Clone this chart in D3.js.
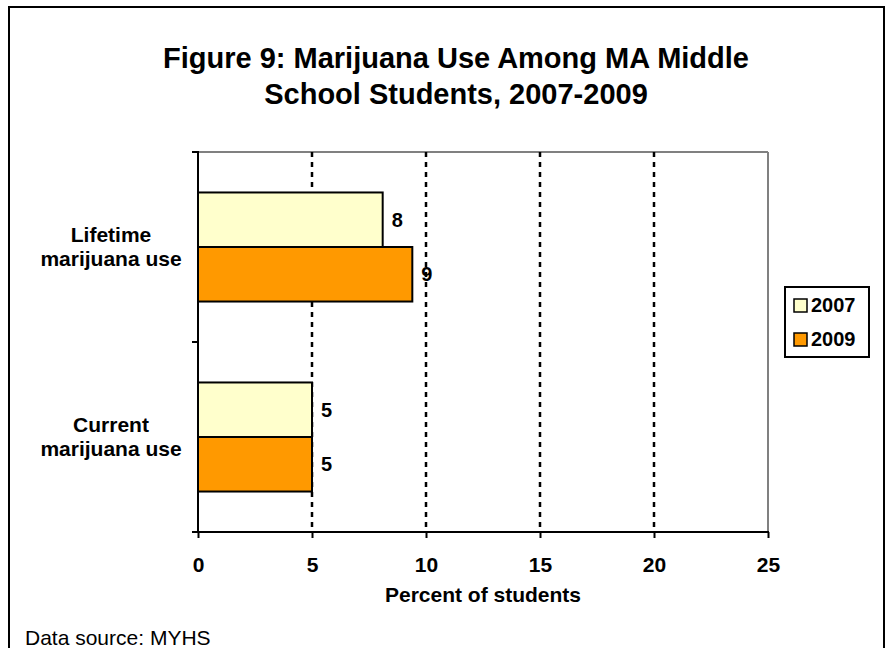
<!DOCTYPE html>
<html>
<head>
<meta charset="utf-8">
<script src="https://cdn.jsdelivr.net/npm/d3@7/dist/d3.min.js"></script>
<style>
  html, body { margin: 0; padding: 0; background: #fff; }
  svg { display: block; font-family: "Liberation Sans", Arial, sans-serif; }
</style>
</head>
<body>
<svg id="chart" width="890" height="648"></svg>
<script>
// ---- Data ----
const categories = [["Lifetime", "marijuana use"], ["Current", "marijuana use"]];
const categoryKeys = ["Lifetime marijuana use", "Current marijuana use"];
const seriesNames = ["2007", "2009"];
const values2007 = [8.1, 5.0];
const values2009 = [9.4, 5.0];
const xTicks = [0, 5, 10, 15, 20, 25];
const titleLines = ["Figure 9: Marijuana Use Among MA Middle", "School Students, 2007-2009"];
const xAxisTitle = "Percent of students";
const sourceNote = "Data source: MYHS";

const seriesColors = { "2007": "#FFFFCC", "2009": "#FF9900" };

const rows = categoryKeys.map((k, i) => ({
  key: k, label: categories[i],
  vals: [{ s: "2007", v: values2007[i] }, { s: "2009", v: values2009[i] }]
}));

const svg = d3.select("#chart");

// outer frame
svg.append("rect").attr("x", 9).attr("y", 7).attr("width", 875).attr("height", 660)
  .attr("fill", "none").attr("stroke", "#000").attr("stroke-width", 2);

const plot = { left: 198, right: 768, top: 152, bottom: 532 };

const x = d3.scaleLinear().domain([0, 25]).range([plot.left, plot.right]);
const y0 = d3.scaleBand().domain(categoryKeys).range([plot.top, plot.bottom])
  .paddingInner(0.426).paddingOuter(0.213);
const y1 = d3.scaleBand().domain(seriesNames).range([0, y0.bandwidth()]);

// title
svg.append("text").attr("x", 456).attr("y", 68).attr("text-anchor", "middle")
  .attr("font-size", 29).attr("font-weight", "bold").text(titleLines[0]);
svg.append("text").attr("x", 456).attr("y", 104).attr("text-anchor", "middle")
  .attr("font-size", 29).attr("font-weight", "bold").text(titleLines[1]);

// plot border (top and right gray)
svg.append("line").attr("x1", plot.left).attr("x2", plot.right)
  .attr("y1", plot.top).attr("y2", plot.top).attr("stroke", "#808080").attr("stroke-width", 2);
svg.append("line").attr("x1", plot.right).attr("x2", plot.right)
  .attr("y1", plot.top).attr("y2", plot.bottom).attr("stroke", "#808080").attr("stroke-width", 2);

// gridlines
svg.append("g").selectAll("line").data(xTicks.filter(t => t > 0 && t < 25)).join("line")
  .attr("x1", d => x(d)).attr("x2", d => x(d))
  .attr("y1", plot.top).attr("y2", plot.bottom)
  .attr("stroke", "#000").attr("stroke-width", 2.5).attr("stroke-dasharray", "5,5");

// bars
const groups = svg.append("g").selectAll("g").data(rows).join("g")
  .attr("transform", d => `translate(0,${y0(d.key)})`);
groups.selectAll("rect").data(d => d.vals).join("rect")
  .attr("x", x(0)).attr("y", d => y1(d.s))
  .attr("width", d => x(d.v) - x(0)).attr("height", y1.bandwidth())
  .attr("fill", d => seriesColors[d.s]).attr("stroke", "#000").attr("stroke-width", 2);
groups.selectAll("text").data(d => d.vals).join("text")
  .attr("x", d => x(d.v) + 9).attr("y", d => y1(d.s) + y1.bandwidth() / 2)
  .attr("dy", "0.35em").attr("font-size", 20).attr("font-weight", "bold")
  .text(d => d3.format(".0f")(d.v));

// x axis
const xAxis = d3.axisBottom(x).tickValues(xTicks).tickSize(6).tickPadding(0).tickFormat(d3.format("d"));
const gx = svg.append("g").attr("transform", `translate(0,${plot.bottom})`).call(xAxis);
gx.select(".domain").remove();
gx.selectAll(".tick line").attr("stroke", "#000").attr("stroke-width", 2);
gx.selectAll(".tick text").attr("y", 40).attr("dy", 0).attr("font-size", 21)
  .attr("font-weight", "bold").attr("fill", "#000").attr("font-family", "Liberation Sans, Arial, sans-serif");
svg.append("line").attr("x1", plot.left - 6).attr("x2", plot.right + 1)
  .attr("y1", plot.bottom).attr("y2", plot.bottom).attr("stroke", "#000").attr("stroke-width", 2);

// y axis
const yBounds = [plot.top, (plot.top + plot.bottom) / 2, plot.bottom];
svg.append("g").selectAll("line").data(yBounds).join("line")
  .attr("x1", plot.left - 6).attr("x2", plot.left).attr("y1", d => d).attr("y2", d => d)
  .attr("stroke", "#000").attr("stroke-width", 2);
svg.append("line").attr("x1", plot.left).attr("x2", plot.left)
  .attr("y1", plot.top - 1).attr("y2", plot.bottom + 1).attr("stroke", "#000").attr("stroke-width", 2);

// category labels
rows.forEach(r => {
  const cy = y0(r.key) + y0.bandwidth() / 2;
  const t = svg.append("text").attr("text-anchor", "middle").attr("font-size", 21).attr("font-weight", "bold");
  t.append("tspan").attr("x", 111).attr("y", cy - 5).text(r.label[0]);
  t.append("tspan").attr("x", 111).attr("y", cy + 19).text(r.label[1]);
});

// x axis title
svg.append("text").attr("x", (plot.left + plot.right) / 2).attr("y", 602).attr("text-anchor", "middle")
  .attr("font-size", 21).attr("font-weight", "bold").text(xAxisTitle);

// legend
const lg = svg.append("g");
lg.append("rect").attr("x", 785).attr("y", 287).attr("width", 84).attr("height", 70)
  .attr("fill", "#fff").attr("stroke", "#000").attr("stroke-width", 2);
seriesNames.forEach((s, i) => {
  const yy = 299 + i * 34;
  lg.append("rect").attr("x", 794).attr("y", yy).attr("width", 13).attr("height", 13)
    .attr("fill", seriesColors[s]).attr("stroke", "#000").attr("stroke-width", 1.5);
  lg.append("text").attr("x", 811).attr("y", yy + 13).attr("font-size", 20).attr("font-weight", "bold").text(s);
});

// source
svg.append("text").attr("x", 25).attr("y", 645).attr("font-size", 21).text(sourceNote);
</script>
</body>
</html>
